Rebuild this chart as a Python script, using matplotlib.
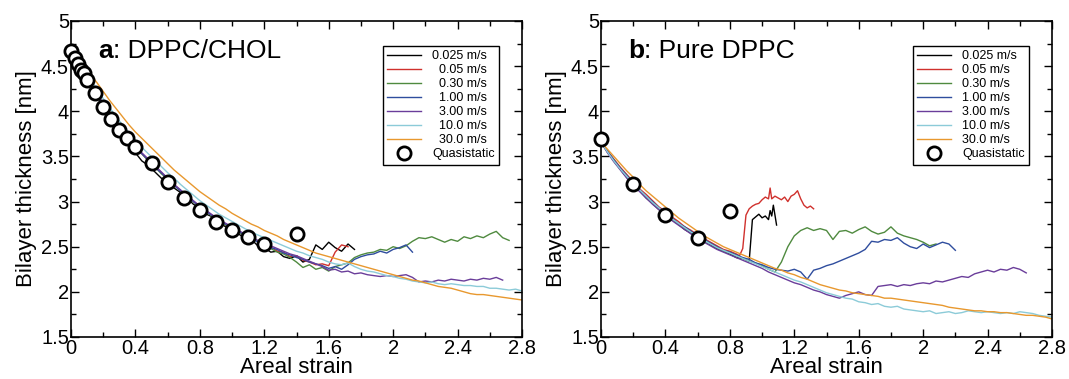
import matplotlib
matplotlib.use("Agg")
import matplotlib.pyplot as plt
from matplotlib.ticker import MultipleLocator

plt.rcParams['font.family'] = ['Liberation Sans', 'DejaVu Sans']

STRAIN = [0.00, 0.04, 0.08, 0.12, 0.16, 0.20, 0.24, 0.28, 0.32, 0.36,
          0.40, 0.44, 0.48, 0.52, 0.56, 0.60, 0.64, 0.68, 0.72, 0.76,
          0.80, 0.84, 0.88, 0.92, 0.96, 1.00, 1.04, 1.08, 1.12, 1.16,
          1.20, 1.24, 1.28, 1.32, 1.36, 1.40, 1.44, 1.48, 1.52, 1.56,
          1.60, 1.64, 1.68, 1.72, 1.76, 1.80, 1.84, 1.88, 1.92, 1.96,
          2.00, 2.04, 2.08, 2.12, 2.16, 2.20, 2.24, 2.28, 2.32, 2.36,
          2.40, 2.44, 2.48, 2.52, 2.56, 2.60, 2.64, 2.68, 2.72, 2.76,
          2.80]

LABELS = ['0.025 m/s', '0.05 m/s', '0.30 m/s', '1.00 m/s', '3.00 m/s', '10.0 m/s', '30.0 m/s']
COLORS = ['#000000', '#d0312d', '#4f8a3f', '#2f4d9e', '#6a3d9a', '#8ccbd8', '#e8982e']

# ---------------- Panel a: DPPC/CHOL ----------------
black_a = [4.66, 4.55, 4.42, 4.29, 4.17, 4.05, 3.93, 3.82, 3.71, 3.62,
           3.54, 3.45, 3.40, 3.33, 3.26, 3.21, 3.15, 3.10, 3.04, 2.97,
           2.93, 2.86, 2.83, 2.77, 2.72, 2.69, 2.64, 2.60, 2.58, 2.51,
           2.49, 2.44, 2.45, 2.39, 2.37, 2.40, 2.33, 2.36, 2.52, 2.47,
           2.55, 2.49, 2.45, 2.53, 2.47]
red_a = [4.66, 4.54, 4.42, 4.30, 4.19, 4.08, 3.97, 3.87, 3.78, 3.69,
         3.61, 3.53, 3.46, 3.39, 3.32, 3.25, 3.19, 3.12, 3.06, 3.00,
         2.95, 2.89, 2.84, 2.80, 2.74, 2.71, 2.66, 2.64, 2.59, 2.56,
         2.51, 2.50, 2.45, 2.44, 2.39, 2.40, 2.35, 2.33, 2.30, 2.31,
         2.29, 2.44, 2.52, 2.50]
green_a = [4.66, 4.54, 4.41, 4.30, 4.18, 4.08, 3.96, 3.87, 3.77, 3.69,
           3.60, 3.53, 3.45, 3.39, 3.31, 3.25, 3.18, 3.12, 3.05, 3.00,
           2.94, 2.89, 2.83, 2.79, 2.74, 2.71, 2.66, 2.63, 2.58, 2.56,
           2.51, 2.48, 2.44, 2.42, 2.38, 2.33, 2.27, 2.30, 2.25, 2.27,
           2.23, 2.28, 2.30, 2.32, 2.38, 2.41, 2.43, 2.44, 2.47, 2.46,
           2.50, 2.48, 2.51, 2.56, 2.60, 2.59, 2.61, 2.58, 2.55, 2.58,
           2.56, 2.61, 2.59, 2.62, 2.60, 2.64, 2.67, 2.60, 2.57]
blue_a = [4.66, 4.54, 4.42, 4.30, 4.19, 4.07, 3.97, 3.87, 3.77, 3.69,
          3.60, 3.53, 3.46, 3.38, 3.32, 3.25, 3.18, 3.12, 3.06, 3.00,
          2.94, 2.89, 2.84, 2.79, 2.75, 2.70, 2.67, 2.63, 2.60, 2.55,
          2.53, 2.49, 2.47, 2.43, 2.41, 2.38, 2.36, 2.33, 2.31, 2.29,
          2.26, 2.28, 2.25, 2.30, 2.36, 2.39, 2.41, 2.42, 2.45, 2.43,
          2.47, 2.49, 2.52, 2.44]
purple_a = [4.66, 4.54, 4.43, 4.31, 4.20, 4.09, 3.98, 3.88, 3.79, 3.70,
            3.62, 3.54, 3.47, 3.40, 3.33, 3.26, 3.19, 3.13, 3.07, 3.01,
            2.95, 2.90, 2.85, 2.80, 2.76, 2.72, 2.68, 2.64, 2.61, 2.57,
            2.54, 2.51, 2.48, 2.45, 2.42, 2.40, 2.37, 2.34, 2.31, 2.28,
            2.24, 2.25, 2.22, 2.23, 2.20, 2.21, 2.19, 2.18, 2.17, 2.18,
            2.17, 2.18, 2.19, 2.16, 2.11, 2.12, 2.11, 2.13, 2.12, 2.14,
            2.13, 2.12, 2.14, 2.13, 2.15, 2.14, 2.16, 2.13]
cyan_a = [4.66, 4.56, 4.46, 4.35, 4.25, 4.14, 4.04, 3.94, 3.85, 3.76,
          3.68, 3.60, 3.53, 3.46, 3.39, 3.32, 3.26, 3.19, 3.13, 3.07,
          3.01, 2.96, 2.91, 2.86, 2.82, 2.78, 2.74, 2.70, 2.66, 2.63,
          2.60, 2.57, 2.54, 2.51, 2.48, 2.45, 2.43, 2.40, 2.38, 2.36,
          2.33, 2.31, 2.30, 2.32, 2.28, 2.25, 2.23, 2.22, 2.20, 2.18,
          2.17, 2.15, 2.14, 2.12, 2.11, 2.10, 2.11, 2.09, 2.08, 2.09,
          2.08, 2.07, 2.07, 2.06, 2.06, 2.04, 2.04, 2.03, 2.02, 2.03,
          2.01]
orange_a = [4.66, 4.58, 4.50, 4.41, 4.32, 4.22, 4.12, 4.03, 3.94, 3.85,
            3.77, 3.70, 3.63, 3.56, 3.49, 3.42, 3.35, 3.29, 3.23, 3.17,
            3.11, 3.06, 3.01, 2.96, 2.92, 2.87, 2.83, 2.79, 2.75, 2.72,
            2.68, 2.65, 2.62, 2.58, 2.55, 2.52, 2.49, 2.46, 2.43, 2.41,
            2.39, 2.37, 2.35, 2.33, 2.31, 2.29, 2.27, 2.25, 2.23, 2.21,
            2.19, 2.17, 2.15, 2.13, 2.12, 2.10, 2.08, 2.06, 2.05, 2.04,
            2.02, 2.00, 1.98, 1.97, 1.97, 1.96, 1.95, 1.94, 1.93, 1.92,
            1.91]
quasi_a_strain = [0, 0.025, 0.045, 0.065, 0.08, 0.1, 0.15, 0.2, 0.25, 0.3, 0.35,
                  0.4, 0.5, 0.6, 0.7, 0.8, 0.9, 1.0, 1.1, 1.2, 1.4]
quasi_a = [4.67, 4.59, 4.52, 4.46, 4.42, 4.35, 4.20, 4.05, 3.91, 3.79, 3.70,
           3.60, 3.43, 3.22, 3.04, 2.91, 2.77, 2.68, 2.61, 2.53, 2.64]

# ---------------- Panel b: Pure DPPC ----------------
black_b_tail_strain = [0.94, 0.96, 0.98, 1.00, 1.02, 1.04, 1.05, 1.06, 1.07, 1.08, 1.09]
black_b = [3.66, 3.55, 3.45, 3.36, 3.27, 3.19, 3.12, 3.04, 2.98, 2.91,
           2.86, 2.80, 2.75, 2.69, 2.65, 2.60, 2.56, 2.52, 2.48, 2.45,
           2.42, 2.38, 2.37, 2.34,
           2.80, 2.83, 2.86, 2.82, 2.84, 2.80, 2.90, 2.84, 2.96, 2.85, 2.74]
red_b_tail_strain = [0.86, 0.88, 0.90, 0.92, 0.94, 0.96, 0.98, 1.00, 1.02, 1.04,
                     1.05, 1.06, 1.08, 1.10, 1.12, 1.14, 1.16, 1.18, 1.20, 1.22,
                     1.24, 1.26, 1.28, 1.30, 1.32]
red_b = [3.66, 3.56, 3.47, 3.38, 3.30, 3.22, 3.14, 3.08, 3.01, 2.94,
         2.89, 2.83, 2.78, 2.72, 2.68, 2.63, 2.59, 2.55, 2.51, 2.47,
         2.45, 2.42,
         2.40, 2.48, 2.85, 2.92, 2.95, 2.97, 2.98, 3.02, 3.05, 3.03,
         3.15, 3.03, 3.06, 3.04, 3.02, 3.05, 3.00, 3.06, 3.08, 3.12,
         3.03, 2.96, 2.93, 2.95, 2.92]
green_b = [3.66, 3.55, 3.46, 3.36, 3.27, 3.20, 3.12, 3.05, 2.98, 2.92,
           2.86, 2.81, 2.75, 2.70, 2.66, 2.61, 2.56, 2.53, 2.49, 2.45,
           2.43, 2.40, 2.37, 2.34, 2.32, 2.29, 2.25, 2.22, 2.33, 2.50,
           2.62, 2.68, 2.71, 2.68, 2.70, 2.68, 2.58, 2.67, 2.68, 2.65,
           2.69, 2.72, 2.67, 2.64, 2.66, 2.72, 2.65, 2.62, 2.60, 2.58,
           2.55, 2.51, 2.53]
blue_b = [3.66, 3.56, 3.46, 3.37, 3.29, 3.21, 3.13, 3.06, 3.00, 2.93,
          2.87, 2.82, 2.76, 2.72, 2.67, 2.62, 2.58, 2.54, 2.50, 2.46,
          2.44, 2.41, 2.38, 2.36, 2.32, 2.30, 2.27, 2.25, 2.24, 2.23,
          2.25, 2.22, 2.14, 2.24, 2.26, 2.29, 2.31, 2.34, 2.37, 2.40,
          2.43, 2.47, 2.56, 2.55, 2.58, 2.57, 2.60, 2.54, 2.50, 2.48,
          2.53, 2.49, 2.52, 2.55, 2.53, 2.46]
purple_b = [3.66, 3.54, 3.44, 3.35, 3.26, 3.18, 3.11, 3.04, 2.97, 2.91,
            2.85, 2.79, 2.74, 2.69, 2.64, 2.60, 2.55, 2.51, 2.47, 2.44,
            2.41, 2.38, 2.35, 2.32, 2.29, 2.26, 2.22, 2.19, 2.16, 2.13,
            2.10, 2.08, 2.05, 2.02, 2.00, 1.97, 1.95, 1.93, 1.96, 1.98,
            2.00, 1.97, 1.96, 2.06, 2.07, 2.08, 2.06, 2.08, 2.07, 2.09,
            2.10, 2.09, 2.12, 2.11, 2.13, 2.15, 2.17, 2.16, 2.20, 2.22,
            2.24, 2.22, 2.25, 2.24, 2.27, 2.25, 2.21]
cyan_b = [3.66, 3.55, 3.45, 3.36, 3.28, 3.20, 3.13, 3.06, 2.99, 2.93,
          2.87, 2.81, 2.76, 2.71, 2.66, 2.62, 2.57, 2.53, 2.49, 2.46,
          2.43, 2.40, 2.37, 2.34, 2.31, 2.28, 2.25, 2.22, 2.19, 2.16,
          2.13, 2.11, 2.08, 2.05, 2.02, 1.99, 1.97, 1.95, 1.93, 1.92,
          1.89, 1.88, 1.86, 1.87, 1.84, 1.83, 1.84, 1.81, 1.80, 1.79,
          1.78, 1.79, 1.76, 1.77, 1.78, 1.76, 1.77, 1.79, 1.78, 1.77,
          1.78, 1.77, 1.76, 1.77, 1.76, 1.78, 1.77, 1.76, 1.74, 1.73,
          1.72]
orange_b = [3.66, 3.58, 3.50, 3.42, 3.34, 3.27, 3.19, 3.12, 3.06, 3.00,
            2.94, 2.88, 2.82, 2.77, 2.72, 2.67, 2.62, 2.58, 2.54, 2.50,
            2.47, 2.44, 2.41, 2.38, 2.35, 2.32, 2.29, 2.26, 2.24, 2.21,
            2.19, 2.16, 2.14, 2.11, 2.08, 2.06, 2.04, 2.02, 2.01, 1.99,
            1.98, 1.97, 1.96, 1.95, 1.93, 1.93, 1.92, 1.91, 1.90, 1.89,
            1.88, 1.87, 1.86, 1.85, 1.83, 1.82, 1.81, 1.80, 1.79, 1.79,
            1.78, 1.78, 1.77, 1.77, 1.76, 1.75, 1.74, 1.74, 1.73, 1.72,
            1.70]
quasi_b_strain = [0.0, 0.2, 0.4, 0.6, 0.8]
quasi_b = [3.69, 3.20, 2.85, 2.60, 2.90]


def xs_for(vals, tail=None):
    if tail is None:
        return STRAIN[:len(vals)]
    n = len(vals) - len(tail)
    return STRAIN[:n] + tail


fig = plt.figure(figsize=(10.69, 3.79), dpi=100)
ax_a = fig.add_axes([71 / 1069, 1 - 337 / 379, 451 / 1069, 316 / 379])
ax_b = fig.add_axes([601 / 1069, 1 - 337 / 379, 451 / 1069, 316 / 379])

panels = [
    (ax_a, [(black_a, None), (red_a, None), (green_a, None), (blue_a, None),
            (purple_a, None), (cyan_a, None), (orange_a, None)],
     quasi_a_strain, quasi_a, 'a', ': DPPC/CHOL', True),
    (ax_b, [(black_b, black_b_tail_strain), (red_b, red_b_tail_strain), (green_b, None),
            (blue_b, None), (purple_b, None), (cyan_b, None), (orange_b, None)],
     quasi_b_strain, quasi_b, 'b', ': Pure DPPC', False),
]

legends = []
for ax, series, qx, qy, letter, title, right_align in panels:
    for (vals, tail), lab, col in zip(series, LABELS, COLORS):
        ax.plot(xs_for(vals, tail), vals, color=col, lw=1.0, label=lab)
    ax.plot(qx, qy, 'o', ms=9.5, mfc='white', mec='black', mew=2.0,
            label='Quasistatic', clip_on=False, zorder=5)
    ax.set_xlim(0, 2.8)
    ax.set_ylim(1.5, 5)
    ax.xaxis.set_minor_locator(MultipleLocator(0.2))
    ax.yaxis.set_minor_locator(MultipleLocator(0.25))
    ax.tick_params(which='both', direction='in', top=True, right=True, width=1.0)
    ax.tick_params(which='major', length=6, labelsize=14.5, pad=1.5)
    ax.tick_params(which='minor', length=3.5)
    ax.set_xticks([0, 0.4, 0.8, 1.2, 1.6, 2.0, 2.4, 2.8])
    ax.set_xticklabels(['0', '0.4', '0.8', '1.2', '1.6', '2', '2.4', '2.8'])
    ax.set_yticks([1.5, 2, 2.5, 3, 3.5, 4, 4.5, 5])
    ax.set_yticklabels(['1.5', '2', '2.5', '3', '3.5', '4', '4.5', '5'])
    for sp in ax.spines.values():
        sp.set_linewidth(1.2)
    ax.set_xlabel('Areal strain', fontsize=16, labelpad=-1)
    ax.set_ylabel('Bilayer thickness [nm]', fontsize=16, labelpad=3)

    t1 = ax.text(0.06, 0.905, letter, transform=ax.transAxes, fontsize=19,
                 fontweight='bold', va='center', ha='left')
    ax.annotate(title, xy=(1, 0.5), xycoords=t1, va='center', ha='left', fontsize=19)

    leg = ax.legend(loc='upper right', bbox_to_anchor=(0.9497, 0.921), borderaxespad=0,
                    fontsize=9, frameon=True, fancybox=False, framealpha=1,
                    edgecolor='black', handlelength=2.7, labelspacing=0.16,
                    borderpad=0.35, handletextpad=0.9)
    leg.get_frame().set_linewidth(1.0)
    legends.append((leg, right_align))

fig.canvas.draw()
renderer = fig.canvas.get_renderer()
for leg, right_align in legends:
    if right_align:
        texts = leg.get_texts()
        ref_w = texts[0].get_window_extent(renderer).width
        for t in texts[:-1]:
            w = t.get_window_extent(renderer).width
            t.set_position((ref_w - w, 0))

fig.savefig('out.png', dpi=100)
